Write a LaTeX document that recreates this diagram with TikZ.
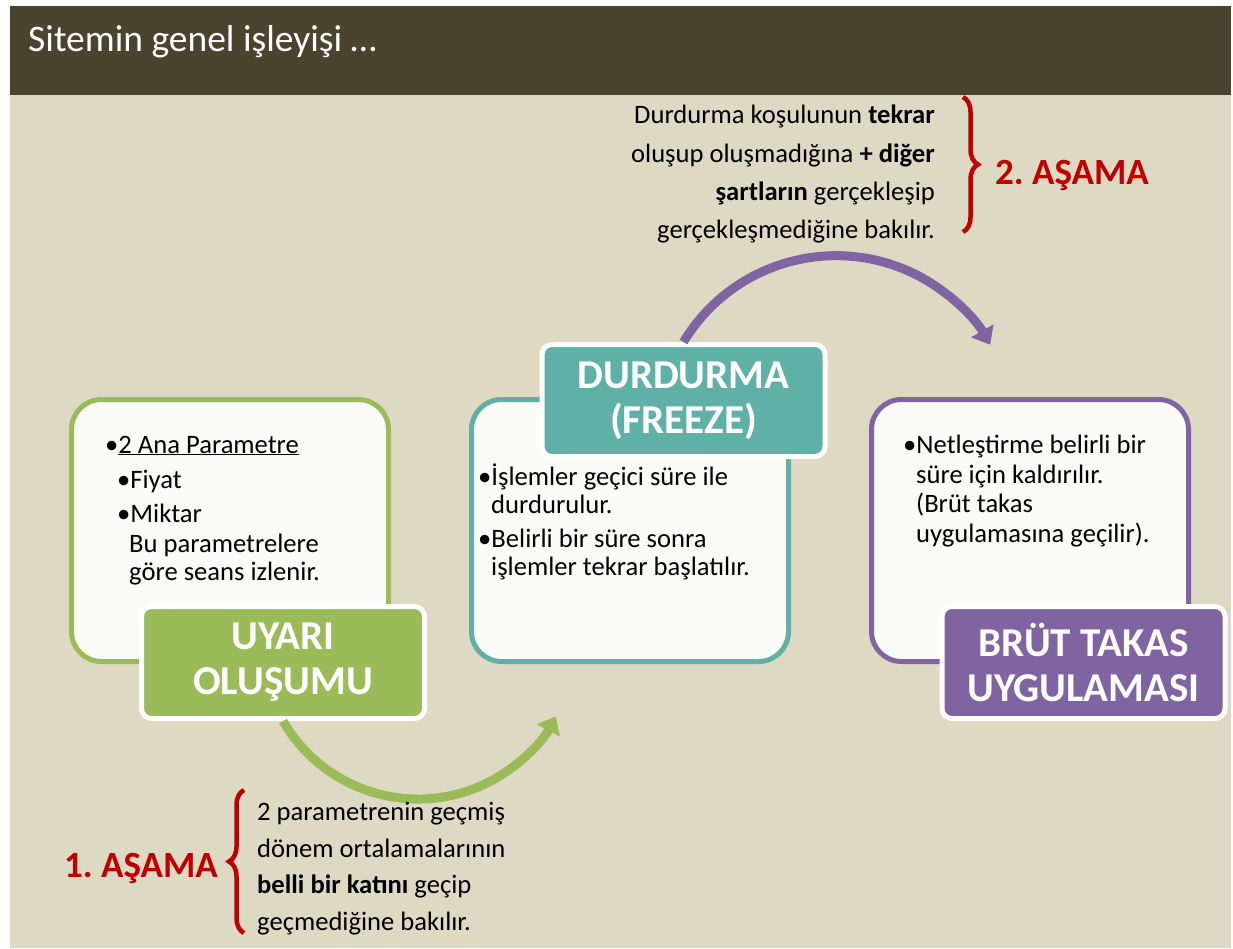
\documentclass[tikz,border=0pt]{standalone}
\usepackage{fontspec}
\setmainfont{Carlito}
\usetikzlibrary{arrows.meta,decorations.pathreplacing}
\frenchspacing

\definecolor{bandcol}{RGB}{74,67,45}
\definecolor{slidecol}{RGB}{221,217,195}
\definecolor{boxcol}{RGB}{250,250,246}
\definecolor{uyaricol}{RGB}{155,187,89}
\definecolor{durcol}{RGB}{95,176,166}
\definecolor{brutcol}{RGB}{128,100,162}
\definecolor{asamacol}{RGB}{192,0,0}

\tikzset{
  bigbox/.style={draw=#1, fill=boxcol, line width=5pt, rounded corners=30pt,
    minimum width=317pt, minimum height=262pt},
  tag/.style={draw=white, fill=#1, line width=5pt, rounded corners=10pt,
    minimum width=283pt, minimum height=112pt, text=white, align=center,
    font=\bfseries\fontsize{41}{45}\selectfont},
  satir/.style={inner sep=0pt, font=\fontsize{26.6}{30}\selectfont},
  asama/.style={inner sep=0pt, anchor=base west, text=asamacol,
    font=\bfseries\fontsize{37}{40}\selectfont},
  donus/.style={draw=#1, line width=9pt, -{Triangle[length=16pt,width=25pt]}},
  kume/.style={draw=asamacol, line width=4.5pt, decorate,
    decoration={brace, amplitude=15pt}}
}

\begin{document}
\begin{tikzpicture}[x=1pt,y=-1pt]
\useasboundingbox (0,0) rectangle (1233,948);
\fill [white] (0,0) rectangle (1233,948);
\fill [slidecol] (10,6) rectangle (1231,948);
\fill [bandcol] (10,6) rectangle (1231,95);
\node [inner sep=0pt, anchor=base west, text=white, font=\fontsize{37.5}{42}\selectfont] (baslik) at (28,51) {Sitemin genel işleyişi …};

\node [bigbox=uyaricol] (uyarikutu) at (230,530.5) {};
\node [bigbox=durcol] (durkutu) at (630,530.5) {};
\node [bigbox=brutcol] (brutkutu) at (1030,530.5) {};

\node [satir, anchor=base west] (u1) at (105,453) {•\underline{2 Ana Parametre}};
\node [satir, anchor=base west] (u2) at (117,488) {•Fiyat};
\node [satir, anchor=base west] (u3) at (117,522) {•Miktar};
\node [satir, anchor=base west] (u4) at (129,552) {Bu parametrelere};
\node [satir, anchor=base west] (u5) at (129,580) {göre seans izlenir.};

\node [satir, anchor=base west] (d1) at (478,485) {•İşlemler geçici süre ile};
\node [satir, anchor=base west] (d2) at (491,513) {durdurulur.};
\node [satir, anchor=base west] (d3) at (478,547) {•Belirli bir süre sonra};
\node [satir, anchor=base west] (d4) at (491,575) {işlemler tekrar başlatılır.};

\node [satir, anchor=base west] (b1) at (903,453) {•Netleştirme belirli bir};
\node [satir, anchor=base west] (b2) at (916,483) {süre için kaldırılır.};
\node [satir, anchor=base west] (b3) at (916,512) {(Brüt takas};
\node [satir, anchor=base west] (b4) at (916,542) {uygulamasına geçilir).};

\node [tag=uyaricol] (uyari) at (283,662.5) {UYARI\\OLUŞUMU};
\node [tag=durcol] (durdurma) at (683.5,400.5) {DURDURMA\\(FREEZE)};
\node [tag=brutcol] (brut) at (1083.5,662.5) {BRÜT TAKAS\\UYGULAMASI};

\draw [donus=uyaricol] (uyari.south) arc [start angle=150, end angle=28, radius=156];
\draw [donus=brutcol] (durdurma.north) arc [start angle=211, end angle=330, radius=178];

\node [satir, anchor=base east] (ust1) at (935,123) {Durdurma koşulunun \textbf{tekrar}};
\node [satir, anchor=base east] (ust2) at (935,162) {oluşup oluşmadığına \textbf{+ diğer}};
\node [satir, anchor=base east] (ust3) at (935,200) {\textbf{şartların} gerçekleşip};
\node [satir, anchor=base east] (ust4) at (935,238) {gerçekleşmediğine bakılır.};
\coordinate (ustbas) at (963,97);
\coordinate (ustson) at (963,232);
\draw [kume] (ustbas) -- (ustson);
\node [asama] (asama2) at (995,184) {2. AŞAMA};

\node [satir, anchor=base west] (alt1) at (257,820) {2 parametrenin geçmiş};
\node [satir, anchor=base west] (alt2) at (257,857) {dönem ortalamalarının};
\node [satir, anchor=base west] (alt3) at (257,893) {\textbf{belli bir katını} geçip};
\node [satir, anchor=base west] (alt4) at (257,930) {geçmediğine bakılır.};
\coordinate (altbas) at (244,933);
\coordinate (altson) at (244,790);
\draw [kume] (altbas) -- (altson);
\node [asama] (asama1) at (64,877) {1. AŞAMA};
\end{tikzpicture}
\end{document}
